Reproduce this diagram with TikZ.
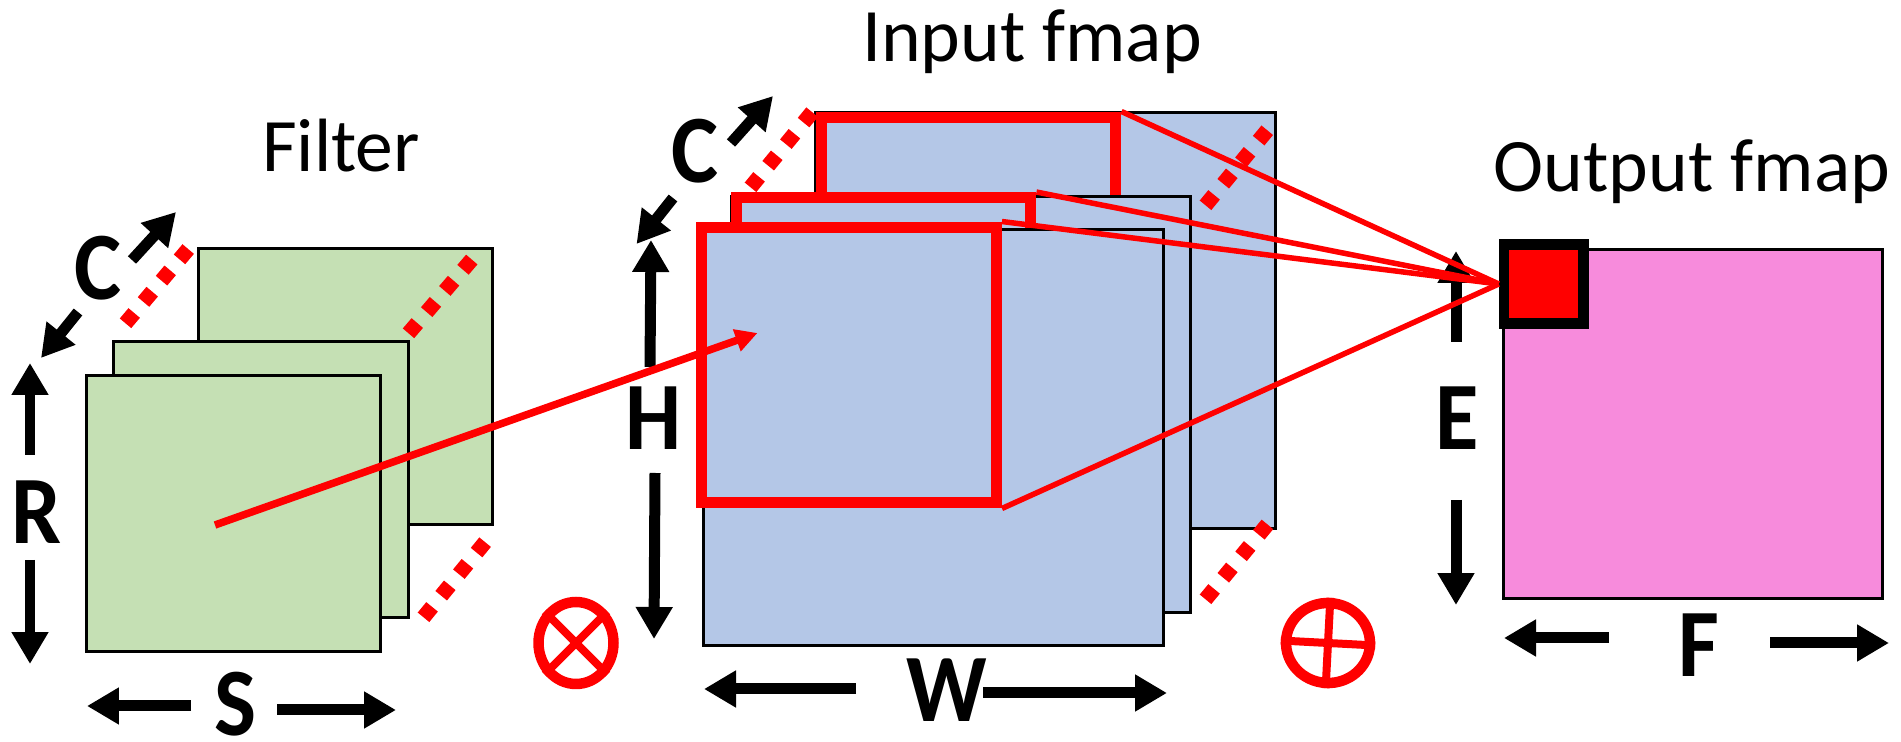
\documentclass[tikz,border=0pt]{standalone}
\usepackage{fontspec}
\setmainfont{Carlito}
\newfontfamily\dimfont[FakeStretch=0.92]{Carlito Bold}
\usetikzlibrary{arrows.meta,shapes.geometric}
\definecolor{ink}      {HTML}{000000}
\definecolor{accent}   {HTML}{FF0000}
\definecolor{filtergreen}{HTML}{C5E0B4}
\definecolor{inputblue}{HTML}{B4C7E7}
\definecolor{outputpink}{HTML}{F78BDC}
\tikzset{
  % --- nodes
  sheet/.style  = {rectangle, draw=ink, line width=0.06cm, inner sep=0pt},
  fil/.style    = {sheet, fill=filtergreen, minimum width=5.9cm, minimum height=5.54cm},
  inp/.style    = {sheet, fill=inputblue, minimum width=9.2cm, minimum height=8.34cm},
  win/.style    = {rectangle, draw=accent, line width=0.22cm, inner sep=0pt,
                   minimum width=5.9cm, minimum height=5.52cm},
  title/.style  = {font=\fontsize{43}{43}\selectfont, inner sep=0pt},
  dimlbl/.style = {font=\fontsize{55}{55}\dimfont, inner sep=0pt},
  oplus/.style  = {ellipse, draw=accent, line width=0.21cm, inner sep=0pt},
  % --- edges
  dimarrow/.style = {-{Triangle[length=0.64cm,width=0.7cm]}, line width=0.22cm, draw=ink},
  dots/.style   = {draw=accent, line width=0.3cm, dash pattern=on 0.27cm off 0.288cm},
  ray/.style    = {draw=accent, line width=0.11cm},
  slide/.style  = {-{Triangle[length=0.44cm,width=0.44cm]}, draw=accent, line width=0.15cm},
  cross/.style  = {draw=accent, line width=0.16cm},
}
\begin{document}
\begin{tikzpicture}[x=0.02cm,y=-0.02cm]
  \useasboundingbox (0,0) rectangle (1901,742);

  % filter
  \node[title] (filterT) at (341,146) {Filter};
  \node[fil] (f3) at (345.5,386.5) {};
  \node[fil] (f2) at (261,479.5) {};
  \node[fil] (f1) at (233.5,513.5) {};
  \node[dimlbl] (lblC1) at (98,268) {C};
  \node[dimlbl] (lblR) at (37,512) {R};
  \node[dimlbl] (lblS) at (236,704) {S};

  % input fmap
  \node[title] (inputT) at (1032,42) {Input fmap};
  \node[inp] (i3) at (1045.75,320.5) {};
  \node[win] (w3) at (968.5,255) {};
  \node[inp] (i2) at (961,404.5) {};
  \node[win] (w2) at (883.5,335.5) {};
  \node[inp] (i1) at (933.5,437.5) {};
  \node[win] (w1) at (849,365) {};
  \node[dimlbl] (lblC2) at (695,151) {C};
  \node[dimlbl] (lblH) at (654,418) {H};
  \node[dimlbl] (lblW) at (947,690) {W};

  % output fmap
  \node[title] (outputT) at (1692,172) {Output fmap};
  \node[sheet,fill=outputpink,minimum width=7.6cm,minimum height=7cm] (o1) at (1693,424) {};
  \node[rectangle,draw=ink,fill=accent,line width=0.21cm,inner sep=0pt,
        minimum width=1.59cm,minimum height=1.58cm] (cell) at (1543.75,284) {};
  \node[dimlbl] (lblE) at (1457,418) {E};
  \node[dimlbl] (lblF) at (1699,645) {F};

  % operators
  \node[oplus,minimum width=1.5cm,minimum height=1.64cm] (mul) at (576,643) {};
  \node[oplus,minimum width=1.68cm,minimum height=1.6cm,rotate=-3] (add) at (1328,643) {};
  \draw[cross] (mul.45)--(mul.225); \draw[cross] (mul.135)--(mul.315);
  \draw[cross] (add.north)--(add.south); \draw[cross] (add.west)--(add.east);

  % free ends of the dimension arrows
  \coordinate (c1a) at (132,260); \coordinate (c1b) at (176,212);
  \coordinate (c1c) at (78,312);  \coordinate (c1d) at (41,358);
  \coordinate (ra) at (30,455);   \coordinate (rb) at (30,363);
  \coordinate (rc) at (30,560);   \coordinate (rd) at (30,664);
  \coordinate (sa) at (191,706);  \coordinate (sb) at (87,706);
  \coordinate (sc) at (277,710);  \coordinate (sd) at (396,710);
  \coordinate (c2a) at (731,143); \coordinate (c2b) at (773,96);
  \coordinate (c2c) at (673,198); \coordinate (c2d) at (636.5,244);
  \coordinate (ha) at (650,367);  \coordinate (hb) at (651,240);
  \coordinate (hc) at (655,473);  \coordinate (hd) at (654,639);
  \coordinate (wa) at (856,689);  \coordinate (wb) at (704,689);
  \coordinate (wc) at (983,693);  \coordinate (wd) at (1167,693);
  \coordinate (ea) at (1456,342); \coordinate (eb) at (1456,251);
  \coordinate (ec) at (1456,500); \coordinate (ed) at (1456,605);
  \coordinate (fa) at (1609,638); \coordinate (fb) at (1504,638);
  \coordinate (fc) at (1770,643); \coordinate (fd) at (1889,643);
  \draw[dimarrow] (c1a)--(c1b); \draw[dimarrow] (c1c)--(c1d);
  \draw[dimarrow] (ra)--(rb); \draw[dimarrow] (rc)--(rd);
  \draw[dimarrow] (sa)--(sb); \draw[dimarrow] (sc)--(sd);
  \draw[dimarrow] (c2a)--(c2b); \draw[dimarrow] (c2c)--(c2d);
  \draw[dimarrow] (ha)--(hb); \draw[dimarrow] (hc)--(hd);
  \draw[dimarrow] (wa)--(wb); \draw[dimarrow] (wc)--(wd);
  \draw[dimarrow] (ea)--(eb); \draw[dimarrow] (ec)--(ed);
  \draw[dimarrow] (fa)--(fb); \draw[dimarrow] (fc)--(fd);

  % dotted depth lines
  \coordinate (d1a) at (125.5,323.3);  \coordinate (d1b) at (188.5,248.7);
  \coordinate (d2a) at (408.5,333.3);  \coordinate (d2b) at (472.5,258.7);
  \coordinate (d3a) at (423.5,617.3);  \coordinate (d3b) at (485.5,541.7);
  \coordinate (d4a) at (750.5,187.3);  \coordinate (d4b) at (812.5,111.7);
  \coordinate (d5a) at (1205.5,205.3); \coordinate (d5b) at (1268.5,128.7);
  \coordinate (d6a) at (1205.5,599.3); \coordinate (d6b) at (1268,523.7);
  \draw[dots] (d1a)--(d1b); \draw[dots] (d2a)--(d2b); \draw[dots] (d3a)--(d3b);
  \draw[dots] (d4a)--(d4b); \draw[dots] (d5a)--(d5b); \draw[dots] (d6a)--(d6b);

  % window to output, filter to window
  \draw[ray] (w3.north east)--(cell.west);
  \draw[ray] (w2.north east)--(cell.west);
  \draw[ray] (w1.north east)--(cell.west);
  \draw[ray] (w1.south east)--(cell.west);
  \coordinate (slideS) at (215,525);
  \coordinate (slideE) at (757.5,333);
  \draw[slide] (slideS)--(slideE);
\end{tikzpicture}
\end{document}
